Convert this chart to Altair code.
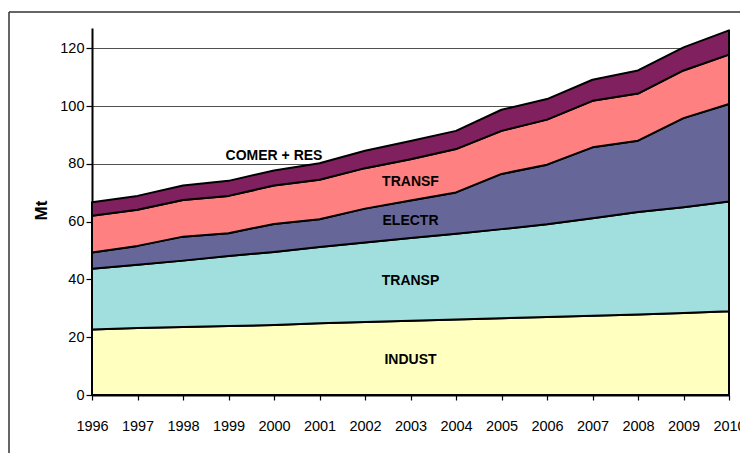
import altair as alt
import pandas as pd

# Annual emissions by sector (Mt), 1996-2010
years = list(range(1996, 2011))
indust = [22.7, 23.2, 23.5, 23.9, 24.2, 24.8, 25.3, 25.7, 26.1, 26.6, 27.0, 27.4, 27.9, 28.4, 29.0]
transp = [21.0, 21.9, 23.0, 24.2, 25.3, 26.4, 27.5, 28.6, 29.7, 30.8, 32.1, 33.8, 35.4, 36.6, 38.0]
electr = [5.6, 6.5, 8.3, 7.9, 9.7, 9.6, 11.7, 13.0, 14.3, 19.1, 20.6, 24.5, 24.7, 30.8, 33.7]
transf = [12.7, 12.5, 12.7, 12.9, 13.3, 13.7, 14.0, 14.3, 15.0, 14.9, 15.6, 16.1, 16.3, 16.5, 17.1]
comer = [4.7, 4.8, 5.0, 5.2, 5.2, 5.7, 6.0, 6.3, 6.3, 7.3, 7.1, 7.3, 8.0, 8.0, 8.4]

sectors = ["INDUST", "TRANSP", "ELECTR", "TRANSF", "COMER + RES"]
series = [indust, transp, electr, transf, comer]
colors = ["#FFFFC0", "#A1DFDF", "#666699", "#FF8080", "#80205F"]
y_ticks = [0, 20, 40, 60, 80, 100, 120]

rows = []
for i, (name, vals) in enumerate(zip(sectors, series)):
    for yr, v in zip(years, vals):
        rows.append({"year": yr, "sector": name, "idx": i, "value": v})
df = pd.DataFrame(rows)

# label anchors derived from the stacked data: band middles in 2003,
# and the top of the stack in 2000 for the uppermost sector
band_labels = []
top_labels = []
base = [0.0] * len(years)
for name, vals in zip(sectors, series):
    top = [b + v for b, v in zip(base, vals)]
    if name == "COMER + RES":
        k = years.index(2000)
        top_labels.append({"year": 2000, "y": top[k], "text": name})
    else:
        k = years.index(2003)
        band_labels.append({"year": 2003, "y": (base[k] + top[k]) / 2, "text": name})
    base = top

FONT = "Liberation Sans"

x_scale = alt.Scale(domain=[1996, 2010], nice=False, zero=False)
y_scale = alt.Scale(domain=[0, 127], nice=False)

areas = alt.Chart(df).mark_area(stroke="black", strokeWidth=2, strokeJoin="round").encode(
    x=alt.X("year:Q", scale=x_scale,
            axis=alt.Axis(values=years, format="d", title=None, grid=False,
                          tickSize=5, tickColor="black", tickWidth=1.2,
                          domainColor="black", domainWidth=2,
                          labelFont=FONT, labelFontSize=14.5, labelColor="black",
                          labelPadding=19, labelFlush=False, labelOverlap=False)),
    y=alt.Y("value:Q", stack="zero", scale=y_scale,
            axis=alt.Axis(values=y_ticks, title="Mt", grid=True, gridColor="#505050",
                          gridWidth=1, tickSize=6, tickColor="black", tickWidth=1.2,
                          domainColor="black", domainWidth=2,
                          labelFont=FONT, labelFontSize=14.5, labelColor="black",
                          labelPadding=2,
                          titleFont=FONT, titleFontSize=17, titleFontWeight="bold",
                          titleColor="black", titleAngle=270, titleAlign="center",
                          titleBaseline="middle", titleX=-51, titleY=182)),
    color=alt.Color("sector:N", scale=alt.Scale(domain=sectors, range=colors), legend=None),
    order=alt.Order("idx:Q", sort="ascending"),
)

text_style = dict(font=FONT, fontSize=14, fontWeight="bold", color="black",
                  align="center", baseline="middle")

band_text = alt.Chart(pd.DataFrame(band_labels)).mark_text(dy=2, **text_style).encode(
    x=alt.X("year:Q", scale=x_scale),
    y=alt.Y("y:Q", scale=y_scale),
    text="text:N",
)

top_text = alt.Chart(pd.DataFrame(top_labels)).mark_text(dy=-14, **text_style).encode(
    x=alt.X("year:Q", scale=x_scale),
    y=alt.Y("y:Q", scale=y_scale),
    text="text:N",
)

frame_df = pd.DataFrame({"k": [0]})
frame_left = alt.Chart(frame_df).mark_rule(color="#333333", strokeWidth=1.5).encode(
    x=alt.value(-83), y=alt.value(-16), y2=alt.value(430))
frame_top = alt.Chart(frame_df).mark_rule(color="#333333", strokeWidth=1.5).encode(
    x=alt.value(-83), x2=alt.value(660), y=alt.value(-16))

chart = alt.layer(areas, band_text, top_text, frame_left, frame_top).properties(
    width=637, height=367,
    autosize=alt.AutoSizeParams(type="none"),
    padding={"left": 92, "top": 28, "right": 11, "bottom": 58},
    background="white",
).configure_view(stroke=None)

chart.save("out.html", embed_options={"renderer": "svg", "actions": False})
